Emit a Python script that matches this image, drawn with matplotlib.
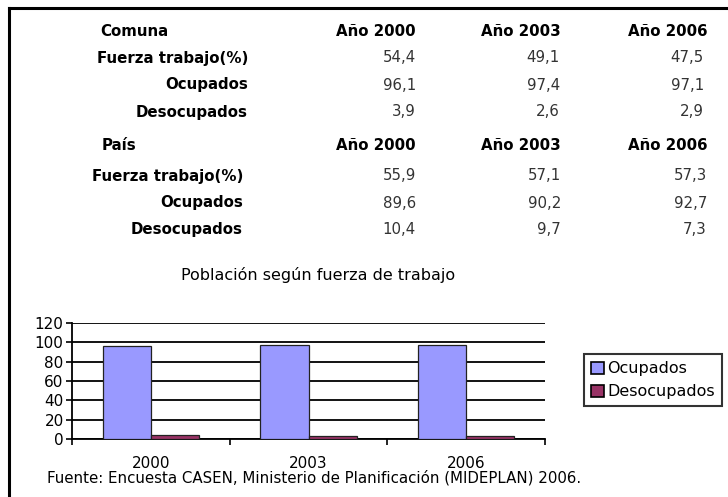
import numpy as np
import matplotlib
matplotlib.use("Agg")
import matplotlib.pyplot as plt
from matplotlib.patches import Patch

# Table data
years = ["Año 2000", "Año 2003", "Año 2006"]
row_labels = ["Fuerza trabajo(%)", "Ocupados", "Desocupados"]
comuna_values = [["54,4", "49,1", "47,5"],
                 ["96,1", "97,4", "97,1"],
                 ["3,9", "2,6", "2,9"]]
pais_values = [["55,9", "57,1", "57,3"],
               ["89,6", "90,2", "92,7"],
               ["10,4", "9,7", "7,3"]]

# Chart data (Comuna)
categories = ["2000", "2003", "2006"]
ocupados = [96.1, 97.4, 97.1]
desocupados = [3.9, 2.6, 2.9]

W, H = 728, 497
fig = plt.figure(figsize=(W / 100, H / 100), dpi=100)
plt.rcParams['font.family'] = ['DejaVu Sans']


def px(x, y):
    return x / W, 1 - y / H


def put(x, y, s, **kw):
    fx, fy = px(x, y)
    fig.text(fx, fy, s, va="center", **kw)


# border lines
fig.add_artist(plt.Line2D([9 / W, 9 / W], [0, 1 - 8 / H], color="black", lw=2.2))
fig.add_artist(plt.Line2D([9 / W, 1], [1 - 8 / H, 1 - 8 / H], color="black", lw=2.2))

# table
fs = 10.8
year_right = [416, 561, 707]
val_right = [416, 560, 704]

put(100, 31, "Comuna", fontsize=fs, fontweight="bold", ha="left")
for yr, xr in zip(years, year_right):
    put(xr, 31, yr, fontsize=fs, fontweight="bold", ha="right")
row_y = [58, 85, 112]
for lab, ry, vals in zip(row_labels, row_y, comuna_values):
    put(248, ry, lab, fontsize=fs, fontweight="bold", ha="right")
    for v, xr in zip(vals, val_right):
        put(xr, ry, v, fontsize=fs, ha="right", color="#333333")

put(102, 145, "País", fontsize=fs, fontweight="bold", ha="left")
for yr, xr in zip(years, year_right):
    put(xr, 145, yr, fontsize=fs, fontweight="bold", ha="right")
row_y = [176, 203, 230]
val_right2 = [416, 561, 707]
for lab, ry, vals in zip(row_labels, row_y, pais_values):
    put(243, ry, lab, fontsize=fs, fontweight="bold", ha="right")
    for v, xr in zip(vals, val_right2):
        put(xr, ry, v, fontsize=fs, ha="right", color="#333333")

# chart
put(318, 275, "Población según fuerza de trabajo", fontsize=11.5, ha="center")

left, right, top, bottom = 72, 545, 323, 439
ax = fig.add_axes([left / W, 1 - bottom / H, (right - left) / W, (bottom - top) / H])
x = np.arange(len(categories)) + 0.5
bw = 0.305
ax.bar(x - bw / 2, ocupados, bw, color="#9999FF", edgecolor="#222222", lw=0.9, zorder=3)
ax.bar(x + bw / 2, desocupados, bw, color="#993366", edgecolor="#222222", lw=0.9, zorder=3)
ax.set_xlim(0, 3)
ax.set_ylim(0, 120)
ax.set_yticks(range(0, 121, 20))
ax.yaxis.grid(True, color="black", lw=1.3, zorder=0)
ax.set_xticks(x)
ax.set_xticklabels(categories, fontsize=11)
ax.set_xticks([0, 1, 2, 3], minor=True)
ax.tick_params(axis="x", which="major", length=0, pad=12)
ax.tick_params(axis="x", which="minor", length=4, width=1.2, direction="out")
ax.tick_params(axis="y", length=4, width=1.2, labelsize=11, pad=2)
for s in ["top", "right"]:
    ax.spines[s].set_visible(False)
ax.spines["left"].set_linewidth(1.3)
ax.spines["bottom"].set_linewidth(1.3)
ax.set_facecolor("white")

handles = [Patch(facecolor="#9999FF", edgecolor="black", lw=1.2, label="Ocupados"),
           Patch(facecolor="#993366", edgecolor="black", lw=1.2, label="Desocupados")]
leg = fig.legend(handles=handles, loc="upper left", bbox_to_anchor=px(584, 354),
                 frameon=True, fancybox=False, edgecolor="black", fontsize=11.5,
                 handlelength=0.8, handleheight=0.8, handletextpad=0.2,
                 borderpad=0.45, labelspacing=0.5, borderaxespad=0)
leg.get_frame().set_linewidth(1.5)

put(47, 478, "Fuente: Encuesta CASEN, Ministerio de Planificación (MIDEPLAN) 2006.",
    fontsize=10.8, ha="left")

fig.savefig("out.png", dpi=100, facecolor="white")
